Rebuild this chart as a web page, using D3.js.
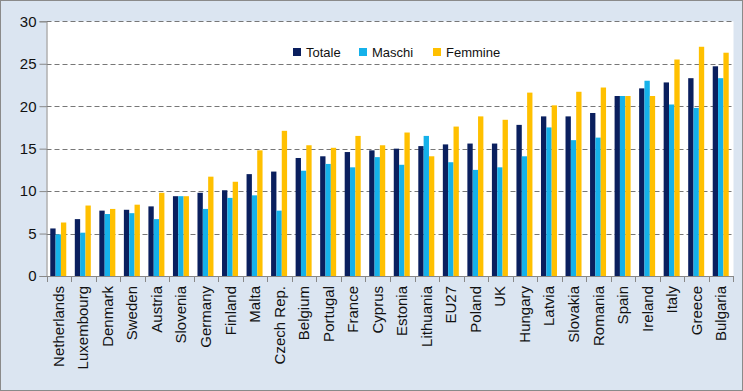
<!DOCTYPE html>
<html><head><meta charset="utf-8">
<script src="https://cdn.jsdelivr.net/npm/d3@7"></script>
<style>body{margin:0;background:#fff}svg{display:block}</style>
</head><body>
<svg id="chart" width="743" height="391"></svg>
<script>
const categories = ["Netherlands","Luxembourg","Denmark","Sweden","Austria","Slovenia","Germany","Finland","Malta","Czech Rep.","Belgium","Portugal","France","Cyprus","Estonia","Lithuania","EU27","Poland","UK","Hungary","Latvia","Slovakia","Romania","Spain","Ireland","Italy","Greece","Bulgaria"];
const totale  = [5.6,6.7,7.7,7.8,8.2,9.4,9.8,10.1,12.0,12.3,13.9,14.1,14.6,14.8,15.0,15.3,15.5,15.6,15.6,17.8,18.8,18.8,19.2,21.2,22.1,22.8,23.3,24.7];
const maschi  = [4.9,5.1,7.3,7.4,6.7,9.4,7.9,9.2,9.5,7.7,12.4,13.2,12.8,14.0,13.1,16.5,13.4,12.5,12.8,14.1,17.5,16.0,16.3,21.2,23.0,20.2,19.8,23.3];
const femmine = [6.3,8.3,7.9,8.4,9.8,9.4,11.7,11.1,14.8,17.1,15.4,15.1,16.5,15.4,16.9,14.1,17.6,18.8,18.4,21.6,20.1,21.7,22.2,21.2,21.2,25.5,27.0,26.3];
const seriesNames = ["Totale","Maschi","Femmine"];
const seriesColors = ["#0a1f5e","#15b1ea","#ffc000"];
const yTicks = [0,5,10,15,20,25,30];

const svg = d3.select("#chart");
const W = 743, H = 391;
const font = "'Liberation Sans', Arial, sans-serif";

svg.append("rect").attr("x",0.5).attr("y",0.5).attr("width",W-1).attr("height",H-1)
  .attr("fill","#dbe5f1").attr("stroke","#8a8a8a").attr("stroke-width",1);

const m = {left:46.5, right:733.5, top:21.3, bottom:276};
const x = d3.scaleBand().domain(categories).range([m.left, m.right]).paddingInner(0).paddingOuter(0);
const y = d3.scaleLinear().domain([0,30]).range([m.bottom, m.top]);

svg.append("rect").attr("x",m.left).attr("y",m.top).attr("width",m.right-m.left).attr("height",m.bottom-m.top).attr("fill","#ffffff");

// gridlines
svg.append("g").selectAll("line").data(yTicks.filter(d=>d>0)).join("line")
  .attr("x1",m.left).attr("x2",m.right)
  .attr("y1",d=>Math.round(y(d))+0.5).attr("y2",d=>Math.round(y(d))+0.5)
  .attr("stroke","#777").attr("stroke-width",1).attr("stroke-dasharray","5,3");

// bars
const data = categories.map((c,i)=>({c, v:[totale[i],maschi[i],femmine[i]]}));
const inner = d3.scaleBand().domain(seriesNames).range([0, 16]);
const off = (x.bandwidth()-16)/2 - 0.5;
const g = svg.append("g");
data.forEach(d=>{
  seriesNames.forEach((s,j)=>{
    g.append("rect")
      .attr("x", x(d.c)+off+inner(s))
      .attr("y", y(d.v[j]))
      .attr("width", inner.bandwidth())
      .attr("height", y(0)-y(d.v[j]))
      .attr("fill", seriesColors[j]);
  });
});

// y axis
const yAxis = d3.axisLeft(y).tickValues(yTicks).tickSize(7).tickPadding(3);
const ya = svg.append("g").attr("transform",`translate(${m.left},0)`).call(yAxis);
ya.select(".domain").attr("stroke","#888");
ya.selectAll(".tick line").attr("stroke","#888");
ya.selectAll(".tick text").attr("font-family",font).attr("font-size",15).attr("fill","#111");

// x axis
const xa = svg.append("g").attr("transform",`translate(0,${m.bottom})`).call(d3.axisBottom(x).tickSize(0).tickFormat(""));
xa.select(".domain").attr("stroke","#888");
svg.append("g").selectAll("line").data(categories.concat(["__end"])).join("line")
  .attr("x1",(d,i)=> i<categories.length ? Math.round(x(d))+0.5 : Math.round(m.right)-0.5)
  .attr("x2",(d,i)=> i<categories.length ? Math.round(x(d))+0.5 : Math.round(m.right)-0.5)
  .attr("y1",m.bottom).attr("y2",m.bottom+6).attr("stroke","#888");
svg.append("g").selectAll("text").data(categories).join("text")
  .attr("transform",d=>`translate(${x(d)+x.bandwidth()/2+5},${m.bottom+10}) rotate(-90)`)
  .attr("text-anchor","end")
  .attr("font-family",font).attr("font-size",15).attr("fill","#111")
  .text(d=>d);

// legend
const legendX = [293, 359, 433];
const lg = svg.append("g");
seriesNames.forEach((s,j)=>{
  lg.append("rect").attr("x",legendX[j]).attr("y",48).attr("width",8).attr("height",8).attr("fill",seriesColors[j]);
  lg.append("text").attr("x",legendX[j]+13).attr("y",57).attr("font-family",font).attr("font-size",13).attr("fill","#111").text(s);
});
</script>
</body></html>
